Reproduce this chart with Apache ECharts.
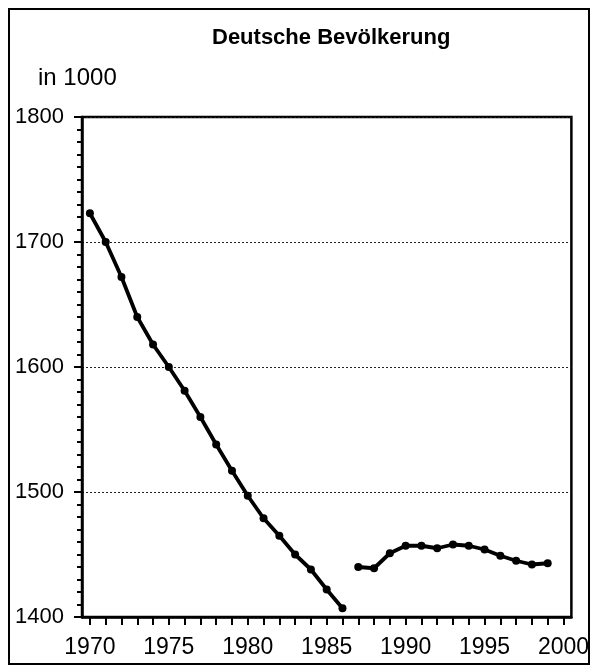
<!DOCTYPE html>
<html>
<head>
<meta charset="utf-8">
<script src="https://cdn.jsdelivr.net/npm/echarts@6/dist/echarts.min.js"></script>
<style>
    html, body { margin: 0; padding: 0; background: #fff; }
    #chart { width: 592px; height: 668px; }
</style>
</head>
<body>
<div id="chart"></div>
<script>
// Jahre und Werte (in 1000), zwei getrennte Abschnitte
var years = ['1970','1971','1972','1973','1974','1975','1976','1977','1978','1979','1980',
             '1981','1982','1983','1984','1985','1986','1987','1988','1989','1990',
             '1991','1992','1993','1994','1995','1996','1997','1998','1999','2000'];
var years1 = ['1970','1971','1972','1973','1974','1975','1976','1977','1978','1979','1980',
              '1981','1982','1983','1984','1985','1986'];
var pop1 = [1723, 1700, 1672, 1640, 1618, 1600, 1581, 1560, 1538, 1517, 1497,
            1479, 1465, 1450, 1438, 1422, 1407];
var years2 = ['1987','1988','1989','1990','1991','1992','1993','1994','1995','1996','1997','1998','1999'];
var pop2 = [1440, 1439, 1451, 1457, 1457, 1455, 1458, 1457, 1454, 1449, 1445, 1442, 1443];

var fontNarrow = '"Liberation Sans Narrow", "Arial Narrow", "Liberation Sans", sans-serif';

function pairs(xs, ys) {
    var out = [];
    for (var i = 0; i < xs.length; i++) out.push([xs[i], ys[i]]);
    return out;
}

var mchart = echarts.init(document.getElementById('chart'));
var lineSeries = {
    type: 'line',
    symbol: 'circle',
    symbolSize: 8,
    lineStyle: { color: '#000', width: 3.8 },
    itemStyle: { color: '#000' },
    animation: false
};
var option = {
    backgroundColor: '#fff',
    title: {
        text: 'Deutsche Bevölkerung',
        left: 212,
        top: 27,
        padding: 0,
        textStyle: { fontFamily: fontNarrow, fontSize: 22, fontWeight: 'bold', color: '#000' }
    },
    graphic: [
        {       // Rahmen ums Bild
            type: 'rect',
            shape: { x: 9, y: 9, width: 580, height: 655 },
            style: { fill: 'none', stroke: '#000', lineWidth: 2 }
        },
        {
            type: 'text',
            left: 38,
            top: 66,
            style: { text: 'in 1000', font: '24px ' + fontNarrow, fill: '#000' }
        }
    ],
    grid: {
        left: 82, right: 16, top: 117, bottom: 51,
        show: true,
        borderColor: '#000',
        borderWidth: 2.5
    },
    xAxis: {
        type: 'category',
        data: years,
        boundaryGap: true,
        axisLine: { lineStyle: { color: '#000', width: 2.5 } },
        axisTick: { show: true, alignWithLabel: true, interval: 0, length: 8, lineStyle: { color: '#000', width: 2 } },
        axisLabel: { interval: 4, margin: 19, color: '#000', fontFamily: fontNarrow, fontSize: 23 },
        splitLine: { show: false }
    },
    yAxis: {
        type: 'value',
        min: 1400,
        max: 1800,
        interval: 100,
        axisLine: { show: true, lineStyle: { color: '#000', width: 2.5 } },
        axisTick: { show: true, length: 8, lineStyle: { color: '#000', width: 2 } },
        minorTick: { show: true, splitNumber: 10, length: 5, lineStyle: { color: '#000', width: 2 } },
        axisLabel: {
            margin: 18, color: '#000', fontFamily: fontNarrow, fontSize: 22,
            formatter: function (v) { return String(v); }
        },
        splitLine: { show: true, lineStyle: { color: '#222', width: 1, type: [2, 2] } }
    },
    series: [
        Object.assign({ data: pairs(years1, pop1) }, lineSeries),
        Object.assign({ data: pairs(years2, pop2) }, lineSeries)
    ]
};
mchart.setOption(option);
</script>
</body>
</html>
